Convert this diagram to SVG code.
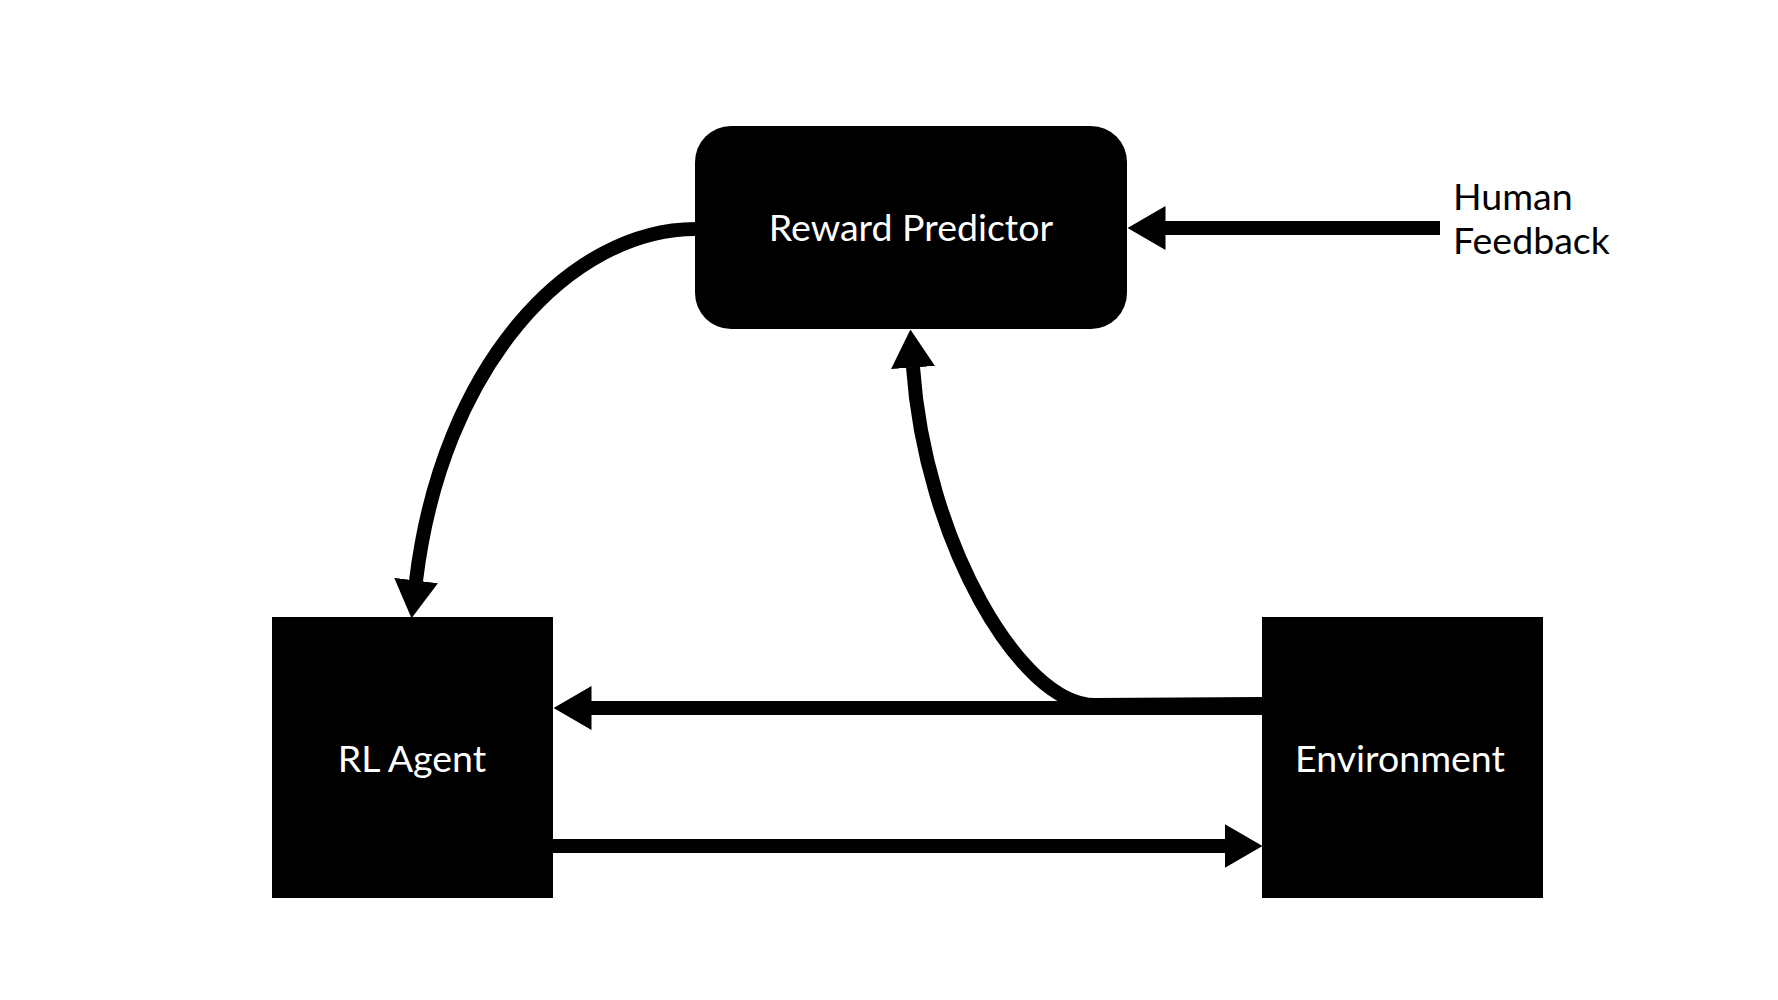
<svg xmlns="http://www.w3.org/2000/svg" width="1778" height="1000" viewBox="0 0 1778 1000">
  <style>
    .node { fill: #000; }
    .label { font-family: Lato, "Liberation Sans", sans-serif; font-size: 37.5px; fill: #fff; text-anchor: middle; }
    .ext { font-family: Lato, "Liberation Sans", sans-serif; font-size: 37.5px; fill: #000; }
    .conn { fill: none; stroke: #000; stroke-width: 14; }
  </style>
  <defs>
    <marker id="arrow" markerUnits="userSpaceOnUse" viewBox="0 0 38 44" markerWidth="38" markerHeight="44" refX="0.5" refY="22" orient="auto">
      <path d="M0,0 L38,22 L0,44 Z" fill="#000"/>
    </marker>
  </defs>
  <rect width="1778" height="1000" fill="#fff"/>
  <g id="connectors">
    <path class="conn" d="M1440,228 L1165,228" marker-end="url(#arrow)"/>
    <path class="conn" d="M696,229 C570,229 442,365 416,581" marker-end="url(#arrow)"/>
    <path class="conn" d="M1262,704 L1095,705 C1020,705 925,540 913,367" marker-end="url(#arrow)"/>
    <path class="conn" d="M1262,708 L591,708" marker-end="url(#arrow)"/>
    <path class="conn" d="M553,846 L1225,846" marker-end="url(#arrow)"/>
  </g>
  <g id="reward-predictor">
    <rect class="node" x="695" y="126" width="432" height="203" rx="36" ry="36"/>
    <text class="label" x="911" y="241">Reward Predictor</text>
  </g>
  <g id="rl-agent">
    <rect class="node" x="272" y="617" width="281" height="281"/>
    <text class="label" x="412" y="772">RL Agent</text>
  </g>
  <g id="environment">
    <rect class="node" x="1262" y="617" width="281" height="281"/>
    <text class="label" x="1400" y="772">Environment</text>
  </g>
  <g id="human-feedback">
    <text class="ext" x="1453" y="210">Human</text>
    <text class="ext" x="1453" y="254">Feedback</text>
  </g>
</svg>
